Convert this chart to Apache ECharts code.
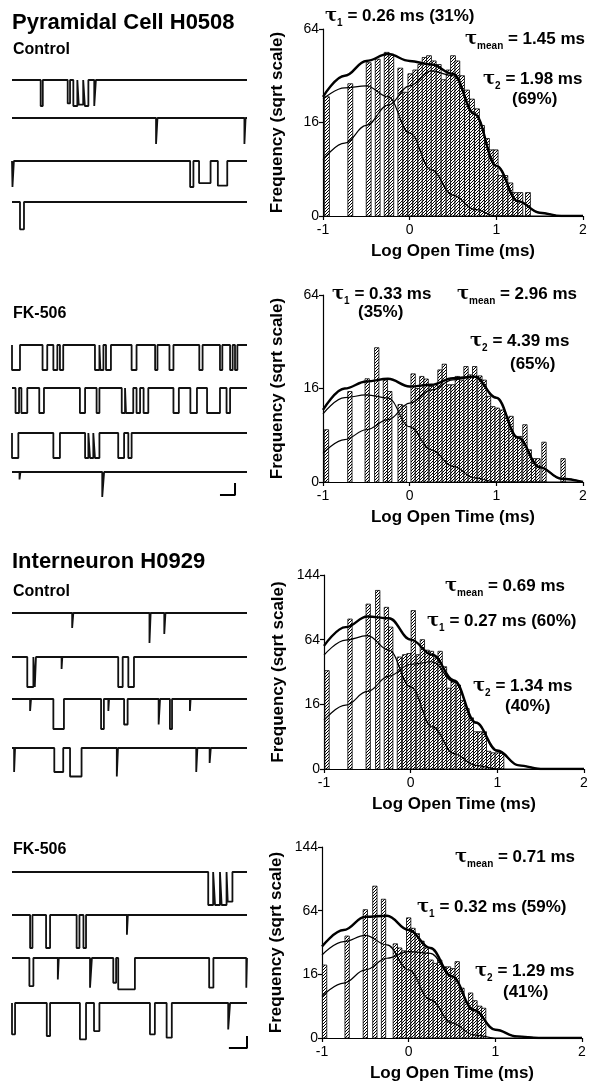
<!DOCTYPE html>
<html>
<head>
<meta charset="utf-8">
<script src="https://cdn.jsdelivr.net/npm/echarts@6/dist/echarts.min.js"></script>
<style>
html, body { margin: 0; padding: 0; background: #fff; }
#main { width: 600px; height: 1092px; }
</style>
</head>
<body>
<div id="main"></div>
<script>
// ---- histogram data (log10 open time, counts) ----
var binX1 = [-0.954, -0.685, -0.473, -0.369, -0.265, -0.212, -0.108, -0.05, 0.008, 0.065, 0.123, 0.173, 0.223, 0.277, 0.335, 0.392, 0.45, 0.5, 0.55, 0.604, 0.662, 0.719, 0.777, 0.835, 0.892, 0.942, 0.992, 1.046, 1.104, 1.162, 1.219, 1.277, 1.365]
var count1 = [26, 32, 43, 45, 49, 48, 40, 28, 37, 39, 42, 46, 47, 44, 42, 34, 39, 47, 44, 36, 29, 25, 21, 15, 11, 8, 8, 3, 3, 2, 1, 1, 1]

var binX2 = [-0.96, -0.69, -0.49, -0.38, -0.28, -0.23, -0.11, -0.06, 0.04, 0.09, 0.14, 0.19, 0.25, 0.3, 0.35, 0.4, 0.45, 0.5, 0.55, 0.6, 0.65, 0.7, 0.75, 0.81, 0.86, 0.91, 0.96, 1.01, 1.07, 1.12, 1.17, 1.22, 1.27, 1.33, 1.38, 1.43, 1.48, 1.55, 1.77]
var count2 = [5, 15, 19.5, 33, 19, 15, 11, 10.6, 21.4, 16, 20.4, 19.4, 16.7, 17.3, 23, 25.4, 17.3, 17.3, 20.4, 19, 24.4, 21, 24.4, 20.6, 19, 13.4, 10.4, 10, 9.5, 7.5, 7.9, 3.8, 3.8, 6, 1.9, 1, 1, 2.9, 1]

var binX3 = [-0.965, -0.7, -0.49, -0.38, -0.28, -0.23, -0.13, -0.07, -0.02, 0.03, 0.09, 0.135, 0.19, 0.24, 0.29, 0.34, 0.39, 0.44, 0.49, 0.55, 0.6, 0.65, 0.7, 0.75, 0.8, 0.85, 0.9, 0.95, 1.0, 1.05]
var count3 = [37, 86, 104, 122, 100, 77, 48, 50, 51, 96, 50, 64, 54, 53, 47, 53, 40, 25, 29, 27, 18, 14, 10, 5.3, 5.3, 5.3, 1.2, 1, 1, 1]

var binX4 = [-0.97, -0.71, -0.5, -0.39, -0.29, -0.154, -0.104, -0.054, 0.0, 0.05, 0.1, 0.154, 0.204, 0.258, 0.308, 0.358, 0.408, 0.46, 0.51, 0.56, 0.615, 0.665, 0.715, 0.765, 0.82, 0.865]
var count4 = [21, 41, 65, 91, 76, 35, 32, 30, 57, 47.5, 43, 37, 32, 24, 22, 24, 20, 20, 19, 23, 9.8, 5, 8, 5.5, 4, 3.5]

// ---- fitted curves read at these log times ----
var curveX = [-1, -0.75, -0.5, -0.25, 0, 0.25, 0.5, 0.75, 1, 1.25, 1.5, 1.75, 2]
var total1 = [26, 36, 44, 48, 44, 42, 37, 19, 4.6, 0.4, 0.02, 0, 0]
var fast1 = [25, 30, 31, 26, 12.6, 3.9, 0.8, 0.08, 0, 0, 0, 0, 0]
var slow1 = [5.8, 9.7, 15, 22.5, 31, 38.5, 36, 19, 4.6, 0.4, 0.02, 0, 0]
var total2 = [9.5, 16, 18.5, 19.5, 16.7, 17.3, 19.7, 20.3, 13, 3.6, 0.4, 0.02, 0]
var fast2 = [8.5, 13, 13.9, 12.9, 5.6, 1.9, 0.45, 0.03, 0, 0, 0, 0, 0]
var slow2 = [1.5, 3.3, 5, 7.1, 11.4, 15.5, 19.1, 20.3, 13, 3.6, 0.4, 0.02, 0]
var total3 = [58, 77, 89, 87, 64, 50, 30, 8.3, 1.3, 0.05, 0, 0, 0]
var fast3 = [49.6, 63.6, 68, 54, 25.8, 6.8, 0.9, 0.05, 0, 0, 0, 0, 0]
var slow3 = [9.1, 15.6, 23, 33, 42, 44, 29, 8, 1.2, 0.05, 0, 0, 0]
var total4 = [33, 46, 58, 59, 46, 32, 15, 3.1, 0.27, 0.01, 0, 0, 0]
var fast4 = [27.2, 36.7, 41.6, 34.2, 18.3, 5.8, 0.9, 0.04, 0, 0, 0, 0, 0]
var slow4 = [6.8, 11.9, 18.3, 25.1, 29.5, 28.3, 14.9, 3.1, 0.27, 0.01, 0, 0, 0]

// ---- single channel openings [start, end, depth], time 0..100 across the trace ----
var pyrCtrl = [
    [[12.2, 13.1, 1], [23.7, 24.7, 0.9], [26.1, 27.8, 1], [28.4, 30.3, 0.95], [31, 32.5, 1], [35, 35.7, 1]],
    [[61.3, 61.9, 1], [98.9, 99.4, 1]],
    [[0.2, 0.8, 1], [75.8, 77.2, 1], [79.6, 84.5, 0.85], [87.6, 91.6, 0.95]],
    [[3.4, 5.1, 1.05]]
]
var pyrFk = [
    [[0, 3.4, 1], [13, 15, 1], [17.6, 19.3, 1], [20.4, 21.8, 1], [35.3, 37.2, 1], [37.6, 38.9, 1], [40, 42.1, 1], [50.9, 53, 1], [60.9, 61.9, 1], [67, 68.7, 1], [79.7, 81.1, 1], [88.5, 89.5, 1], [92.8, 93.9, 1], [94.9, 95.9, 1]],
    [[1.5, 3, 1], [4, 6.5, 1], [11.6, 13.6, 1], [28.9, 31.1, 1], [36, 37.2, 1], [46.7, 48.1, 1], [48.5, 51.6, 1], [53, 54.5, 1], [56, 58, 1], [68.7, 71, 1], [75.9, 78.7, 1], [83, 88.5, 1], [91.3, 92.8, 1]],
    [[0, 2.7, 1], [17.6, 20.4, 1], [31.1, 32.5, 1], [33.2, 34.6, 1], [35.3, 37.2, 1], [45.2, 47.7, 1], [49.5, 50.9, 1]],
    [[3.2, 3.6, 0.3], [38.4, 39.2, 1]]
]
var intCtrl = [
    [[25.6, 26.1, 0.5], [58.5, 59, 1], [64.8, 65.3, 0.7]],
    [[6.5, 9.1, 1], [9.7, 10.2, 1], [21.1, 21.4, 0.4], [45.2, 47.1, 1], [49.5, 51.9, 1]],
    [[7.7, 8.1, 0.4], [17.6, 22.1, 1], [37.9, 39.1, 1], [41, 41.3, 0.4], [47.7, 49.2, 0.85], [62.4, 63, 0.85], [67.2, 68.1, 1], [75.7, 76, 0.4]],
    [[0.9, 1.3, 0.8], [18, 21.8, 0.8], [24.7, 29.6, 0.95], [44.6, 45.1, 0.95], [78.4, 78.9, 0.8], [84.1, 84.6, 0.5]]
]
var intFk = [
    [[83.5, 85.6, 1], [86.4, 88.5, 1], [89.2, 91.3, 1], [91.8, 93.8, 0.9]],
    [[7.7, 8.7, 1], [14.5, 16.2, 1], [27.5, 28.7, 1], [30.4, 31.5, 1], [48.9, 49.3, 0.6]],
    [[7.4, 9.1, 0.85], [19.5, 19.9, 0.65], [33.2, 34, 0.9], [43.1, 44.3, 0.75], [45.2, 52.3, 0.95], [83.9, 85.7, 0.9], [99.7, 100, 0.9]],
    [[0, 1.3, 0.95], [14.8, 16.2, 1], [28.9, 31.5, 1.1], [34.9, 37.2, 0.85], [58.7, 60.8, 0.95], [65.8, 68, 1.05], [92, 92.8, 0.8]]
]
// scale bars (time, current) in the last trace of each FK-506 panel
var scaleT2 = [88.5, 94.9, 94.9]
var scaleI2 = [-0.92, -0.92, -0.44]
var scaleT4 = [92.3, 100, 100]
var scaleI4 = [-1.36, -1.36, -1.0]

var FONT = 'Liberation Sans, Arial, sans-serif'
var chart = echarts.init(document.getElementById('main'), null, {renderer: 'canvas'})

// hatch pattern for the bars
var pat = document.createElement('canvas')
pat.width = 3
pat.height = 3
var c = pat.getContext('2d')
c.fillStyle = '#fff'
c.fillRect(0, 0, 3, 3)
c.strokeStyle = '#000'
c.lineWidth = 1
c.beginPath()
c.moveTo(0, 3); c.lineTo(3, 0)
c.moveTo(-1, 1); c.lineTo(1, -1)
c.moveTo(2, 4); c.lineTo(4, 2)
c.stroke()
var hatch = {image: pat, repeat: 'repeat'}

var hists = [
    {bx: binX1, bc: count1, bw: 0.056, tot: total1, f: fast1, s: slow1, top: 29, bottom: 216, left: 323, right: 583, ymax: 8},
    {bx: binX2, bc: count2, bw: 0.05, tot: total2, f: fast2, s: slow2, top: 295, bottom: 482, left: 323, right: 583, ymax: 8},
    {bx: binX3, bc: count3, bw: 0.05, tot: total3, f: fast3, s: slow3, top: 575, bottom: 769, left: 324, right: 584, ymax: 12},
    {bx: binX4, bc: count4, bw: 0.05, tot: total4, f: fast4, s: slow4, top: 847, bottom: 1038, left: 322, right: 582, ymax: 12}
]

var grids = [], xAxes = [], yAxes = [], series = []

hists.forEach(function (h, i) {
    grids.push({left: h.left, top: h.top, width: h.right - h.left, height: h.bottom - h.top})
    xAxes.push({
        gridIndex: i, type: 'value', min: -1, max: 2, interval: 1,
        name: 'Log Open Time (ms)', nameLocation: 'middle', nameGap: 27,
        nameTextStyle: {fontFamily: FONT, fontWeight: 'bold', fontSize: 17, color: '#000'},
        axisLine: {onZero: false, lineStyle: {color: '#000', width: 1.2}},
        axisTick: {length: 4, lineStyle: {color: '#000', width: 1.2}},
        axisLabel: {fontFamily: FONT, fontSize: 14, color: '#000', margin: 7},
        splitLine: {show: false}
    })
    yAxes.push({
        gridIndex: i, type: 'value', min: 0, max: h.ymax, interval: 4,
        name: 'Frequency (sqrt scale)', nameLocation: 'middle', nameGap: 37,
        nameTextStyle: {fontFamily: FONT, fontWeight: 'bold', fontSize: 17, color: '#000'},
        axisLine: {show: true, onZero: false, lineStyle: {color: '#000', width: 1.2}},
        axisTick: {show: true, length: 4, lineStyle: {color: '#000', width: 1.2}},
        axisLabel: {fontFamily: FONT, fontSize: 14, color: '#000', margin: 4,
            formatter: function (v) { return String(Math.round(v * v)) }},
        splitLine: {show: false}
    })
    var bw = h.bw
    series.push({
        type: 'custom', xAxisIndex: i, yAxisIndex: i,
        data: h.bx.map(function (x, k) { return [x, Math.sqrt(h.bc[k])] }),
        encode: {x: 0, y: 1},
        renderItem: function (params, api) {
            var x = api.value(0), s = api.value(1)
            var p0 = api.coord([x - bw / 2, s])
            var p1 = api.coord([x + bw / 2, 0])
            return {
                type: 'rect',
                shape: {x: p0[0], y: p0[1], width: p1[0] - p0[0], height: p1[1] - p0[1]},
                style: {fill: hatch, stroke: '#000', lineWidth: 0.8}
            }
        }
    })
    var curve = function (arr, w) {
        series.push({
            type: 'line', xAxisIndex: i, yAxisIndex: i, smooth: 0.4, smoothMonotone: 'x',
            symbol: 'none', silent: true,
            lineStyle: {color: '#000', width: w},
            data: curveX.map(function (x, k) { return [x, Math.sqrt(arr[k])] })
        })
    }
    curve(h.f, 1.2)
    curve(h.s, 1.2)
    curve(h.tot, 2.4)
})

// trace rows: baseline y and opening depth in px for each panel
var panels = [
    {ev: pyrCtrl, base: [80, 118, 161, 202], depth: 26},
    {ev: pyrFk, base: [345, 388, 433, 472], depth: 25, bar: [scaleT2, scaleI2]},
    {ev: intCtrl, base: [613, 657, 699, 748], depth: 30},
    {ev: intFk, base: [872, 915, 958, 1003], depth: 33, bar: [scaleT4, scaleI4]}
]

function stepData(ev) {
    var d = [[0, 0]]
    ev.forEach(function (e) {
        d.push([e[0], 0], [e[0], -e[2]], [e[1], -e[2]], [e[1], 0])
    })
    d.push([100, 0])
    return d
}

var gi = grids.length
panels.forEach(function (p) {
    p.ev.forEach(function (ev, r) {
        var pad = 4
        grids.push({left: 12, width: 235, top: p.base[r] - pad, height: p.depth + pad})
        xAxes.push({gridIndex: gi, type: 'value', min: 0, max: 100, show: false})
        yAxes.push({gridIndex: gi, type: 'value', min: -1, max: pad / p.depth, show: false})
        series.push({
            type: 'line', xAxisIndex: gi, yAxisIndex: gi, symbol: 'none', silent: true,
            clip: false, lineStyle: {color: '#111', width: 1.8},
            data: stepData(ev)
        })
        if (r === 3 && p.bar) {
            series.push({
                type: 'line', xAxisIndex: gi, yAxisIndex: gi, symbol: 'none', silent: true,
                clip: false, lineStyle: {color: '#000', width: 2},
                data: p.bar[0].map(function (t, k) { return [t, p.bar[1][k]] })
            })
        }
        gi++
    })
})

// text
function label(x, y, text, size) {
    return {type: 'text', left: x, top: y, style: {text: text, fill: '#000',
        font: 'bold ' + size + 'px ' + FONT}}
}
var rich = {
    t: {fontFamily: 'DejaVu Serif', fontSize: 18, fontWeight: 'bold', color: '#000', lineHeight: 20, verticalAlign: 'bottom'},
    s: {fontFamily: FONT, fontSize: 10, fontWeight: 'bold', color: '#000', lineHeight: 20, verticalAlign: 'bottom', padding: [0, 0, -3, 0]},
    n: {fontFamily: FONT, fontSize: 17, fontWeight: 'bold', color: '#000', lineHeight: 20, verticalAlign: 'bottom'}
}
function tau(x, y, sub, rest) {
    return {type: 'text', left: x, top: y, style: {
        text: '{t|τ}{s|' + sub + '}{n|' + rest + '}', rich: rich}}
}
var graphics = [
    label(12, 12, 'Pyramidal Cell H0508', 22),
    label(13, 42, 'Control', 16),
    label(13, 306, 'FK-506', 16),
    label(12, 551, 'Interneuron H0929', 22),
    label(13, 584, 'Control', 16),
    label(13, 842, 'FK-506', 16),

    tau(325, 7, '1', ' = 0.26 ms (31%)'),
    tau(465, 30, 'mean', ' = 1.45 ms'),
    tau(483, 70, '2', ' = 1.98 ms'),
    label(512, 91, '(69%)', 17),

    tau(332, 285, '1', ' = 0.33 ms'),
    label(358, 304, '(35%)', 17),
    tau(457, 285, 'mean', ' = 2.96 ms'),
    tau(470, 332, '2', ' = 4.39 ms'),
    label(510, 356, '(65%)', 17),

    tau(445, 577, 'mean', ' = 0.69 ms'),
    tau(427, 612, '1', ' = 0.27 ms (60%)'),
    tau(473, 677, '2', ' = 1.34 ms'),
    label(505, 698, '(40%)', 17),

    tau(455, 848, 'mean', ' = 0.71 ms'),
    tau(417, 898, '1', ' = 0.32 ms (59%)'),
    tau(475, 962, '2', ' = 1.29 ms'),
    label(503, 984, '(41%)', 17)
]

chart.setOption({
    backgroundColor: '#fff',
    animation: false,
    grid: grids,
    xAxis: xAxes,
    yAxis: yAxes,
    series: series,
    graphic: graphics
})
</script>
</body>
</html>
